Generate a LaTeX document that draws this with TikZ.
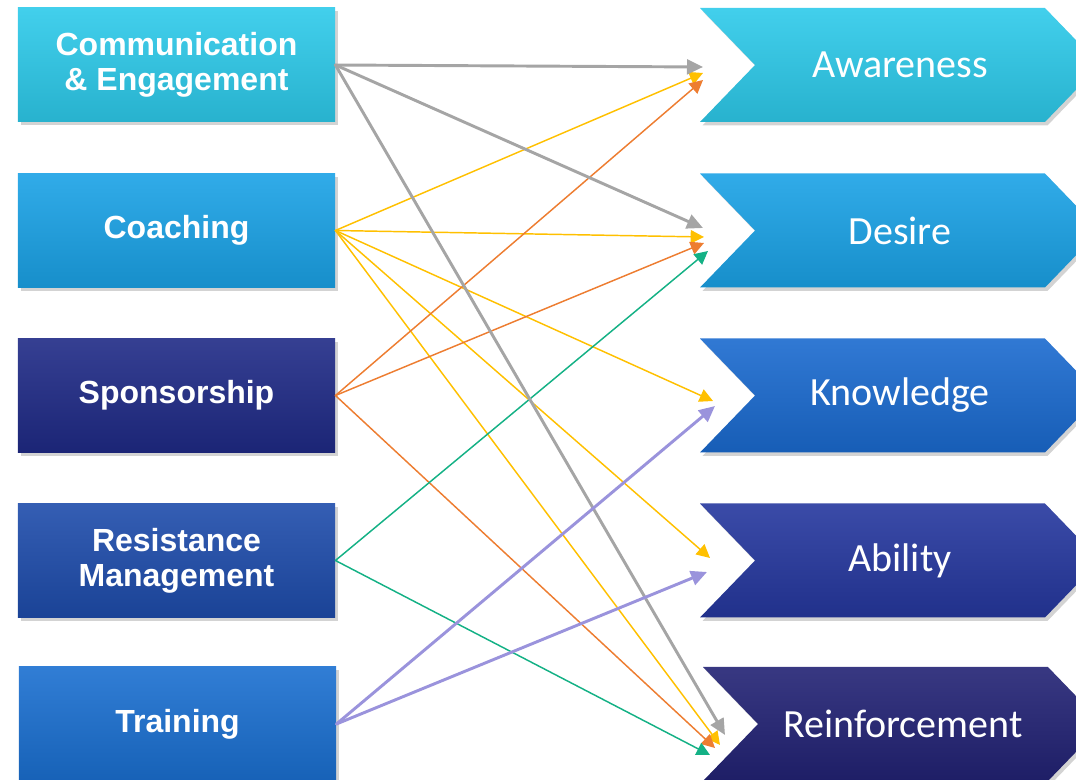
\documentclass[tikz,border=0pt]{standalone}
\usepackage{fontspec}
\setmainfont{Liberation Sans}
\newfontfamily\calibri{Carlito}
\usetikzlibrary{arrows.meta,shapes.symbols,shadows,calc}

\definecolor{tcyan}{HTML}{2DCAEA}
\definecolor{tsky}{HTML}{1AA2E6}
\definecolor{tnavy}{HTML}{1F2A86}
\definecolor{troyal}{HTML}{1E4CAB}
\definecolor{tblue}{HTML}{1A6FD0}
\definecolor{cblue}{HTML}{1A6ACF}
\definecolor{cindigo}{HTML}{25379E}
\definecolor{cdeep}{HTML}{222274}
\definecolor{agray}{HTML}{A5A5A5}
\definecolor{ayellow}{HTML}{FFC000}
\definecolor{aorange}{HTML}{ED7D31}
\definecolor{agreen}{HTML}{14B185}
\definecolor{apurple}{HTML}{9A93DC}

\begin{document}
\begin{tikzpicture}[x=0.75pt,y=-0.75pt,line join=round,line cap=round,>={Triangle[length=10pt,width=10pt]},
	lbox/.style={rectangle,minimum width=238pt,minimum height=85.5pt,align=center,text=white,
		font=\fontsize{24}{26}\selectfont\bfseries,top color=#1!90!white,bottom color=#1!88!black,
		drop shadow={opacity=0.35,shadow xshift=2pt,shadow yshift=-2.5pt}},
	chev/.style={signal,signal from=west,signal to=east,signal pointer angle=92,
		minimum width=300pt,minimum height=85.5pt,inner sep=0pt,text=white,
		font=\calibri\fontsize{30}{32}\selectfont,top color=#1!90!white,bottom color=#1!88!black,
		drop shadow={opacity=0.35,shadow xshift=2pt,shadow yshift=-2.5pt}},
	thick line/.style={line width=2.2pt,>={Triangle[length=12pt,width=11pt]}},
	thin line/.style={line width=1.1pt}]
	\useasboundingbox (0,0) rectangle (1076,780);
	% left column
	\node[lbox=tcyan] (comm) at (176.5,65) {Communication\\\& Engagement};
	\node[lbox=tsky] (coach) at (176.5,230.5) {Coaching};
	\node[lbox=tnavy] (spons) at (176.5,395.5) {Sponsorship};
	\node[lbox=troyal] (resist) at (176.5,560.5) {Resistance\\Management};
	\node[lbox=tblue] (train) at (177.5,724) {Training};
	% right column
	\node[chev=tcyan] (aware) at (900,65) {Awareness};
	\node[chev=tsky] (desire) at (900,230.5) {Desire};
	\node[chev=cblue] (know) at (900,395.5) {Knowledge};
	\node[chev=cindigo] (able) at (900,560.5) {Ability};
	\node[chev=cdeep] (reinf) at (903,724) {Reinforcement};
	\coordinate (aw-in) at (703,73);
	\coordinate (de-in) at (704,238);
	\coordinate (kn-in) at (714,403);
	\coordinate (ab-in) at (708,565);
	\coordinate (re-in) at (716,745);
	% links
	\draw[thin line,ayellow,->] (coach.east) -- (aw-in);
	\draw[thin line,ayellow,->] (coach.east) -- ($(de-in)+(0,-1)$);
	\draw[thin line,ayellow,->] (coach.east) -- ($(kn-in)+(-1,-2)$);
	\draw[thin line,ayellow,->] (coach.east) -- ($(ab-in)+(2,-7)$);
	\draw[thin line,ayellow,->] (coach.east) -- ($(re-in)+(4,0)$);
	\draw[thin line,aorange,->] (spons.east) -- ($(aw-in)+(0,7)$);
	\draw[thin line,aorange,->] (spons.east) -- ($(de-in)+(0,5)$);
	\draw[thin line,aorange,->] (spons.east) -- ($(re-in)+(-1,3)$);
	\draw[thin line,agreen,->] (resist.east) -- ($(de-in)+(4,13)$);
	\draw[thin line,agreen,->] (resist.east) -- ($(re-in)+(-6,10)$);
	\draw[thick line,agray,->] (comm.east) -- ($(aw-in)+(0,-6)$);
	\draw[thick line,agray,->] (comm.east) -- ($(de-in)+(-1,-10)$);
	\draw[thick line,agray,->] (comm.east) -- ($(re-in)+(9,-10)$);
	\draw[thick line,apurple,->] (train.east) -- ($(kn-in)+(1,3)$);
	\draw[thick line,apurple,->] (train.east) -- ($(ab-in)+(-1,7)$);
\end{tikzpicture}
\end{document}
